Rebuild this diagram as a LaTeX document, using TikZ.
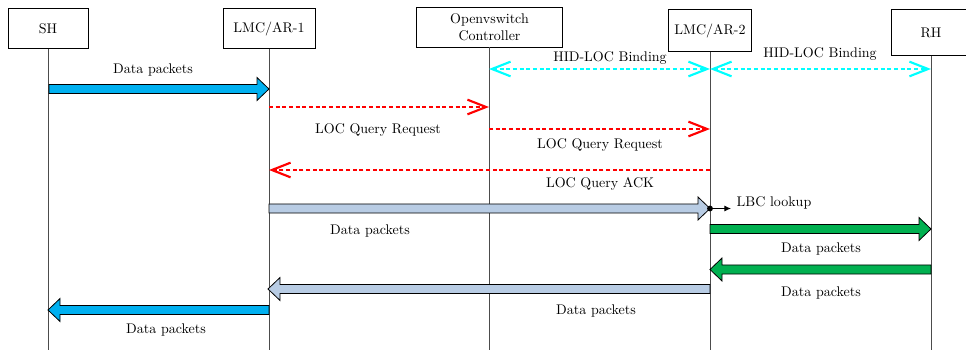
\documentclass[tikz,border=0pt]{standalone}
\usetikzlibrary{calc,arrows.meta}
\definecolor{pktblue}{HTML}{00B0F0}
\definecolor{pktsteel}{HTML}{B8CCE4}
\definecolor{pktgreen}{HTML}{00B050}
\definecolor{bindcyan}{HTML}{00FFFF}
% fat block arrow between two named points: from, to, fill colour
\newcommand{\fatarrow}[3]{%
  \coordinate (fa-h) at ($(#2)!9pt!(#1)$);
  \filldraw[fill=#3,draw=black,line width=0.6pt,line join=miter]
    ($(#1)!3.4pt!90:(#2)$) -- ($(fa-h)!3.4pt!90:(#2)$) -- ($(fa-h)!8.6pt!90:(#2)$) -- (#2)
    -- ($(fa-h)!8.6pt!-90:(#2)$) -- ($(fa-h)!3.4pt!-90:(#2)$) -- ($(#1)!3.4pt!-90:(#2)$) -- cycle;
}
\begin{document}
\begin{tikzpicture}[x=0.75pt,y=-0.75pt,
  every node/.style={font=\fontsize{10.5}{12.6}\selectfont},
  entity/.style={draw,line width=0.7pt,minimum height=30pt,inner sep=2pt,align=center},
  lifeline/.style={draw=black!70,line width=0.7pt},
  barb/.tip={Straight Barb[length=14pt,width=11pt,line width=1.6pt]},
  query/.style={red,line width=2.2pt,dash pattern=on 3pt off 2pt,-barb},
  binding/.style={bindcyan,line width=2.2pt,dash pattern=on 3pt off 2pt,barb-barb},
  lbl/.style={inner sep=1pt}]
\useasboundingbox (0,0) rectangle (966,350);
\coordinate (bottom) at (0,350);

% entities
\node[entity,minimum width=60pt] (sh) at (48,28.5) {SH};
\node[entity,minimum width=69pt] (lmc1) at (269,28.5) {LMC/AR-1};
\node[entity,minimum width=109pt] (ctrl) at (489.5,27) {Openvswitch\\Controller};
\node[entity,minimum width=62pt,minimum height=31pt] (lmc2) at (710,30.5) {LMC/AR-2};
\node[entity,minimum width=60pt,minimum height=34pt] (rh) at (931,32.5) {RH};

% lifelines
\foreach \e in {sh,lmc1,ctrl,lmc2,rh}
  \draw[lifeline] (\e.south) -- (\e.south |- bottom);

% end points on the lifelines
\coordinate (sh-a) at (49,89);     \coordinate (lmc1-a) at (269,89);
\coordinate (lmc1-b) at (269,107); \coordinate (ctrl-b) at (489,107);
\coordinate (ctrl-c) at (489,69);  \coordinate (lmc2-c) at (710,69);  \coordinate (rh-c) at (931,69);
\coordinate (ctrl-d) at (489,129); \coordinate (lmc2-d) at (710,129);
\coordinate (lmc2-e) at (710,170); \coordinate (lmc1-e) at (269,170);
\coordinate (lmc1-f) at (269,208.5); \coordinate (lmc2-f) at (710,208.5);
\coordinate (lbc) at (731,208.5);
\coordinate (lmc2-g) at (710,229); \coordinate (rh-g) at (931,229);
\coordinate (rh-h) at (931,269.5); \coordinate (lmc2-h) at (710,269.5);
\coordinate (lmc2-i) at (710,289); \coordinate (lmc1-i) at (268,289);
\coordinate (lmc1-j) at (269,310); \coordinate (sh-j) at (48,310);

% messages
\fatarrow{sh-a}{lmc1-a}{pktblue}
\node[lbl] (dp1) at (153,70) {Data packets};

\draw[query] (lmc1-b) -- (ctrl-b);
\node[lbl] (lq1) at (378,130) {LOC Query Request};

\draw[binding] (ctrl-c) -- (lmc2-c);
\node[lbl] (hb1) at (610,58) {HID-LOC Binding};
\draw[binding] (lmc2-c) -- (rh-c);
\node[lbl] (hb2) at (820,54) {HID-LOC Binding};

\draw[query] (ctrl-d) -- (lmc2-d);
\node[lbl] (lq2) at (600,145) {LOC Query Request};

\draw[query] (lmc2-e) -- (lmc1-e);
\node[lbl] (ack) at (600,184) {LOC Query ACK};

\fatarrow{lmc1-f}{lmc2-f}{pktsteel}
\node[lbl] (dp2) at (370,231) {Data packets};
\fill (lmc2-f) circle (2.2pt);
\draw[-{Latex[length=5pt,width=4.5pt]},line width=0.7pt] (lmc2-f) -- (lbc);
\node[lbl,anchor=west] (lookup) at (735,203) {LBC lookup};

\fatarrow{lmc2-g}{rh-g}{pktgreen}
\node[lbl] (dp3) at (821,249) {Data packets};

\fatarrow{rh-h}{lmc2-h}{pktgreen}
\node[lbl] (dp4) at (821,293) {Data packets};

\fatarrow{lmc2-i}{lmc1-i}{pktsteel}
\node[lbl] (dp5) at (596,311) {Data packets};

\fatarrow{lmc1-j}{sh-j}{pktblue}
\node[lbl] (dp6) at (166,330) {Data packets};
\end{tikzpicture}
\end{document}
